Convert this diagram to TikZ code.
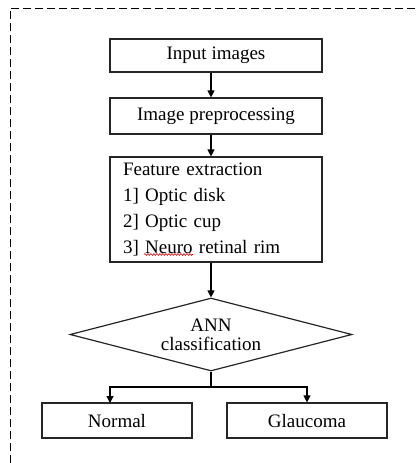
\documentclass[tikz,border=0pt]{standalone}
\usepackage{fontspec}
\setmainfont{Liberation Serif}
\usetikzlibrary{arrows.meta,shapes.geometric,decorations.pathmorphing}

\tikzset{
  box/.style={draw=black!85, line width=1.2pt, rectangle, inner sep=0pt,
              font=\fontsize{19}{26}\selectfont},
  decision/.style={draw=black!85, line width=1.2pt, diamond, aspect=3.86,
              inner sep=0pt, minimum width=282pt, minimum height=73pt,
              align=center, font=\fontsize{19}{19}\selectfont},
  arr/.style={draw=black, line width=1.2pt,
              -{Triangle[length=7pt,width=7pt]}},
  link/.style={draw=black, line width=1.2pt},
  frame/.style={draw=black, line width=1pt, dash pattern=on 8pt off 4pt},
  squiggle/.style={draw=red!85!black, line width=0.6pt, decorate,
              decoration={snake, amplitude=0.9pt, segment length=3pt}}
}

\begin{document}
\begin{tikzpicture}[x=1pt,y=-1pt]
  \useasboundingbox (0,0) rectangle (415,463);

  % outer dashed frame (top and left sides only)
  \draw[frame] (415,8) -- (10,8) -- (10,463);

  % process boxes
  \node[box, minimum width=212pt, minimum height=33pt] (input) at (216,55.5) {Input images};
  \node[box, minimum width=212pt, minimum height=36pt] (prep) at (216,116) {Image preprocessing};
  \node[box, minimum width=212pt, minimum height=105pt, text width=186pt,
        align=left, inner xsep=13pt] (feat) at (216,209.5)
        {Feature extraction\\1] Optic disk\\2] Optic cup\\3] Neuro retinal rim};
  \draw[squiggle] (144,254.5) -- (193,254.5);

  % decision
  \node[decision] (ann) at (211,334.5) {ANN\\classification};

  % outcomes
  \node[box, minimum width=150pt, minimum height=35pt] (normal) at (117,420.5) {Normal};
  \node[box, minimum width=160pt, minimum height=35pt] (glau) at (307,420.5) {Glaucoma};

  % connectors
  \draw[arr] (input.south -| ann) -- (prep.north -| ann);
  \draw[arr] (prep.south -| ann) -- (feat.north -| ann);
  \draw[arr] (feat.south -| ann) -- (ann.north);
  \coordinate (split) at (211,387);
  \coordinate (nin) at (110,403);
  \draw[link] (ann.south) -- (split);
  \draw[arr] (split) -| (nin);
  \draw[arr] (split) -| (glau.north);
\end{tikzpicture}
\end{document}
